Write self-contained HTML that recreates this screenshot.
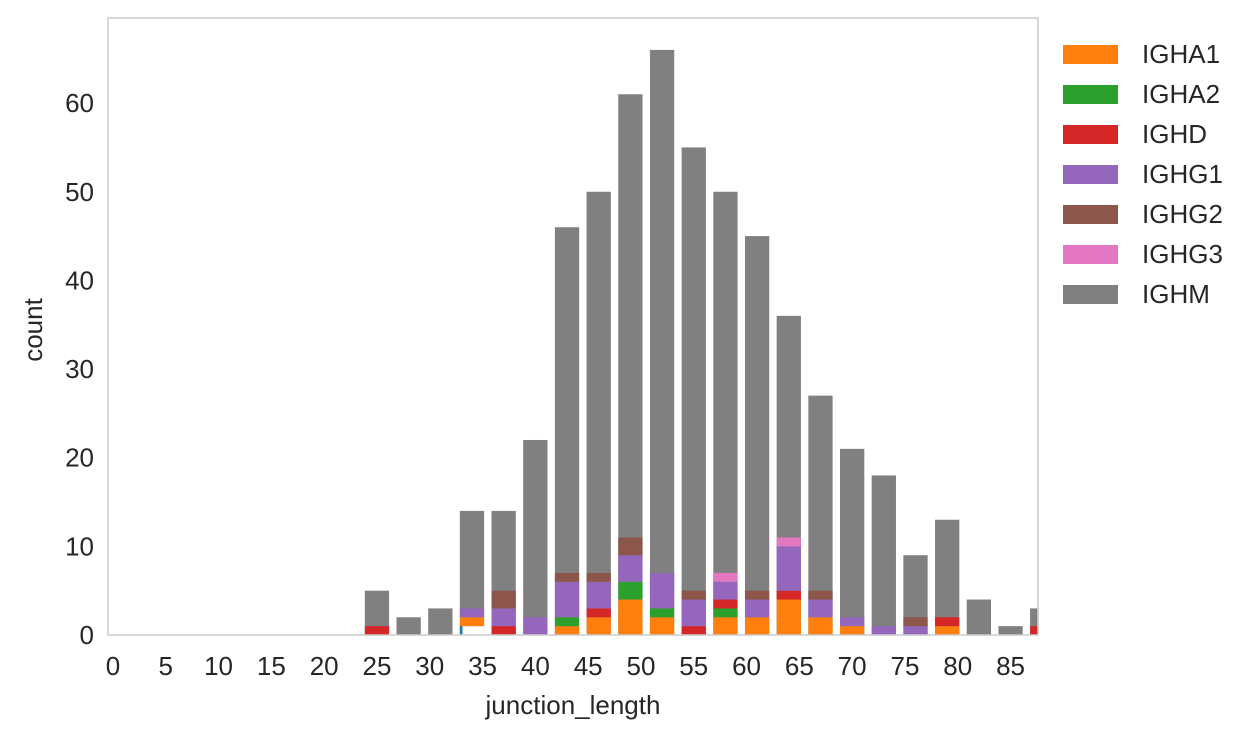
<!DOCTYPE html>
<html><head><meta charset="utf-8"><style>
body{margin:0;background:#fff;}
svg{display:block;font-family:"Liberation Sans",Arial,sans-serif;}
</style></head><body>
<svg id="chart" width="1258" height="738" xmlns="http://www.w3.org/2000/svg">
<rect x="108" y="18" width="930" height="617" fill="#fff"/>
<g id="bars"></g>
<g id="xticks"></g>
<g id="yticks"></g>
<rect x="108" y="18" width="930" height="617" fill="none" stroke="#cccccc" stroke-width="1.5"/>
<text x="573" y="714" font-size="26" fill="#262626" text-anchor="middle">junction_length</text>
<text transform="translate(42,330) rotate(-90)" font-size="26" fill="#262626" text-anchor="middle">count</text>
<g id="legend"></g>
</svg>
<script>
const bins = [25,28,31,34,37,40,43,46,49,52,55,58,61,64,67,70,73,76,79,82,85,88];
const totals = [5,2,3,14,14,22,46,50,61,66,55,50,45,36,27,21,18,9,13,4,1,3];
const seriesNames = ["IGHA1","IGHA2","IGHD","IGHG1","IGHG2","IGHG3"];
const seriesColors = ["#ff7f0e","#2ca02c","#d62728","#9467bd","#8c564b","#e377c2"];
const IGHA = [0,0,0,1,0,0,0,0,0,0,0,0,0,0,0,0,0,0,0,0,0,0];
const IGHA1 = [0,0,0,1,0,0,1,2,4,2,0,2,2,4,2,1,0,0,1,0,0,0];
const IGHA2 = [0,0,0,0,0,0,1,0,2,1,0,1,0,0,0,0,0,0,0,0,0,0];
const IGHD  = [1,0,0,0,1,0,0,1,0,0,1,1,0,1,0,0,0,0,1,0,0,1];
const IGHG1 = [0,0,0,1,2,2,4,3,3,4,3,2,2,5,2,1,1,1,0,0,0,0];
const IGHG2 = [0,0,0,0,2,0,1,1,2,0,1,0,1,0,1,0,0,1,0,0,0,0];
const IGHG3 = [0,0,0,0,0,0,0,0,0,0,0,1,0,1,0,0,0,0,0,0,0,0];
const xTicks = [0,5,10,15,20,25,30,35,40,45,50,55,60,65,70,75,80,85];
const yTicks = [0,10,20,30,40,50,60];

const NS="http://www.w3.org/2000/svg";
const X0=108,X1=1038,Y0=635,Y1=18;
const xmin=-0.47,xmax=87.6,ymin=0,ymax=69.6;
function xs(v){return X0+(v-xmin)/(xmax-xmin)*(X1-X0);}
function ys(v){return Y0-(v-ymin)/(ymax-ymin)*(Y0-Y1);}
function mk(tag,attrs,parent){const e=document.createElementNS(NS,tag);for(const k in attrs)e.setAttribute(k,attrs[k]);parent.appendChild(e);return e;}
const bars=document.getElementById('bars');
const clip=mk('clipPath',{id:'pc'},document.getElementById('chart'));
mk('rect',{x:X0,y:Y1,width:X1-X0,height:Y0-Y1},clip);
bars.setAttribute('clip-path','url(#pc)');
const hw=1.15;
const series=[IGHA1,IGHA2,IGHD,IGHG1,IGHG2,IGHG3];
bins.forEach((b,i)=>{
  const r=mk('rect',{x:xs(b-hw),y:ys(totals[i]),width:xs(b+hw)-xs(b-hw),height:ys(0)-ys(totals[i]),fill:'#808080'},bars);
  
  
  let base=IGHA[i];
  if(IGHA[i]>0){
    const a=mk('rect',{x:xs(b-hw),y:ys(IGHA[i]),width:xs(b-hw+0.25)-xs(b-hw),height:ys(0)-ys(IGHA[i]),fill:'#1f77b4'},bars);
    
    
    const w=mk('rect',{x:xs(b-hw+0.25),y:ys(IGHA[i]),width:xs(b+hw)-xs(b-hw+0.25),height:ys(0)-ys(IGHA[i]),fill:'#fff'},bars);
    
    
  }
  series.forEach((s,k)=>{
    if(s[i]>0){
      const c=mk('rect',{x:xs(b-hw),y:ys(base+s[i]),width:xs(b+hw)-xs(b-hw),height:ys(base)-ys(base+s[i]),fill:seriesColors[k]},bars);
      
      
      base+=s[i];
    }
  });
});
const xt=document.getElementById('xticks');
xTicks.forEach(t=>{
  const e=mk('text',{x:xs(t),y:Y0+40,'font-size':26,fill:'#262626','text-anchor':'middle'},xt);
  e.textContent=t;
  
  
});
const yt=document.getElementById('yticks');
yTicks.forEach(t=>{
  const e=mk('text',{x:X0-14,y:ys(t)+9,'font-size':26,fill:'#262626','text-anchor':'end'},yt);
  e.textContent=t;
  
  
});
const lg=document.getElementById('legend');
const lnames=seriesNames.concat(["IGHM"]);
const lcols=seriesColors.concat(["#808080"]);
lnames.forEach((n,k)=>{
  const cy=54+k*40;
  const r=mk('rect',{x:1063,y:cy-9,width:55,height:19,fill:lcols[k]},lg);
  
  
  const t=mk('text',{x:1142,y:cy+9,'font-size':26,fill:'#262626'},lg);
  t.textContent=n;
  
  
});
</script>
</body></html>
